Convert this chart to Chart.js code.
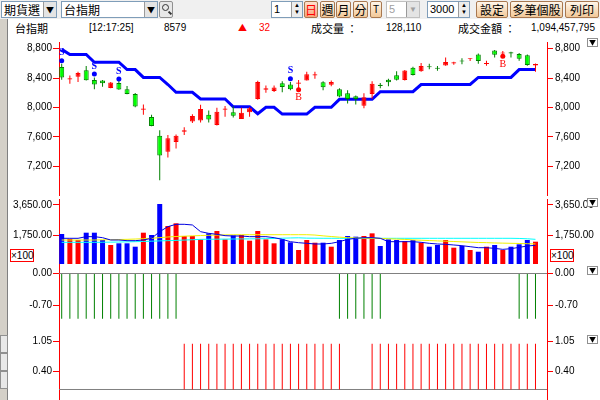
<!DOCTYPE html>
<html lang="zh-Hant">
<head>
<meta charset="UTF-8">
<title>台指期</title>
<script src="https://cdn.jsdelivr.net/npm/chart.js"></script>
<style>
  body { margin: 0; width: 600px; height: 400px; overflow: hidden; background: #fff; position: relative;
         font-family: "Noto Sans CJK TC", "Liberation Sans", sans-serif; }
  .abs { position: absolute; box-sizing: border-box; }
  #toolbar { left: 0; top: 0; width: 600px; height: 19px; background: #f0f0f0; }
  .box { top: 1px; height: 17px; background: #fff; border: 1px solid #7f9db9; font-size: 12px; line-height: 15px; padding-left: 2px; white-space: nowrap; }
  .dd { position: absolute; right: 0; top: 0; width: 12px; height: 15px; background: #e4e4e4; border-left: 1px solid #9a9a9a; font-size: 8px; line-height: 15px; text-align: center; color: #000; }
  .spin { position: absolute; right: 0; top: 0; width: 10px; height: 15px; background: #ececec; border-left: 1px solid #9a9a9a; font-size: 6px; line-height: 7px; text-align: center; }
  .btn { top: 1px; height: 17px; border: 1px solid #a87850; border-radius: 2px; background: linear-gradient(#fff6ea, #f2c898); font-size: 12px; line-height: 15px; text-align: center; color: #000; }
  .info { top: 21px; font-size: 11px; line-height: 14px; white-space: nowrap; color: #000; }
  .num { font-family: "Liberation Sans", sans-serif; font-size: 10px; }
  .red { color: #ff0000; }
  .tri { width: 11px; height: 9px; background: #fff; border: 1px solid #909090; font-size: 7px; line-height: 7px; text-align: center; color: #000; }
  .x100 { width: 24px; height: 13px; border: 1px solid #ff0000; background: #fff; font-size: 10px; line-height: 11px; text-align: center; font-family: "Liberation Sans", sans-serif; }
  canvas { position: absolute; left: 0; }
</style>
</head>
<body>
  <div id="toolbar" class="abs"></div>
  <div class="abs box" style="left:1px;width:56px">期貨選<span class="dd">▼</span></div>
  <div class="abs box" style="left:61px;width:97px">台指期<span class="dd">▼</span></div>
  <div class="abs btn" style="left:159px;width:14px;background:#e8e8e8;border-color:#909090">
    <div class="abs" style="left:2px;top:2px;width:7px;height:7px;border:1px solid #333;border-radius:50%"></div>
    <div class="abs" style="left:8px;top:10px;width:4px;height:2px;background:#333;transform:rotate(45deg)"></div>
  </div>
  <div class="abs box num" style="left:271px;width:32px;font-size:11px">1<span class="spin">▲<br>▼</span></div>
  <div class="abs btn red" style="left:304px;width:14px;background:linear-gradient(#ffe2d0,#f7a27a)">日</div>
  <div class="abs btn" style="left:320px;width:15px">週</div>
  <div class="abs btn" style="left:336px;width:15px">月</div>
  <div class="abs btn" style="left:353px;width:15px">分</div>
  <div class="abs btn" style="left:370px;width:12px;font-family:'Liberation Sans';font-size:10px">T</div>
  <div class="abs box num" style="left:386px;width:34px;font-size:11px;color:#a0a0a0;border-color:#c0c0c0">5<span class="dd" style="color:#a0a0a0">▼</span></div>
  <div class="abs box num" style="left:427px;width:43px;font-size:11px">3000<span class="spin">▲<br>▼</span></div>
  <div class="abs btn" style="left:476px;width:32px">設定</div>
  <div class="abs btn" style="left:510px;width:53px">多筆個股</div>
  <div class="abs btn" style="left:565px;width:34px">列印</div>

  <div class="abs" style="left:0;top:19px;width:8px;height:381px;background:#d4d0c8;border-right:1px solid #808080"></div>
  <div class="abs" style="left:0;top:335px;width:8px;height:18px;background:#e8e8e8;border:1px solid #909090"></div>
  <div class="abs" style="left:0;top:353px;width:8px;height:18px;background:#e8e8e8;border:1px solid #909090"></div>
  <div class="abs" style="left:0;top:371px;width:8px;height:18px;background:#e8e8e8;border:1px solid #909090"></div>

  <div class="abs info" style="left:15px">台指期</div>
  <div class="abs info num" style="left:89px">[12:17:25]</div>
  <div class="abs info num" style="left:164px">8579</div>
  <div class="abs info red" style="left:238px;font-size:9px">▲</div>
  <div class="abs info red num" style="left:259px">32</div>
  <div class="abs info" style="left:311px">成交量 ：</div>
  <div class="abs info num" style="left:386px">128,110</div>
  <div class="abs info" style="left:458px">成交金額 ：</div>
  <div class="abs info num" style="left:531px">1,094,457,795</div>

  <canvas id="price" width="600" height="161" style="top:38px"></canvas>
  <canvas id="volume" width="600" height="67" style="top:199px"></canvas>
  <canvas id="sig1" width="600" height="65" style="top:266px"></canvas>
  <canvas id="sig2" width="600" height="69" style="top:331px"></canvas>

  <div class="abs tri" style="left:587px;top:38px">▼</div>
  <div class="abs tri" style="left:587px;top:198px">▼</div>
  <div class="abs tri" style="left:587px;top:266px">▼</div>
  <div class="abs tri" style="left:587px;top:335px">▼</div>
  <div class="abs x100" style="left:10px;top:249px">×100</div>
  <div class="abs x100" style="left:550px;top:249px">×100</div>

<script>
  // 日K資料 (讀圖估計)
  const opens  = [8550,8380,8416,8507,8373,8365,8265,8334,8248,8183,7968,7868,7614,7398,7528,7670,7808,7821,7899,7761,
                  7968,7933,7843,7933,8114,8240,8222,8330,8313,8322,8365,8434,8343,8308,8248,8192,8153,8024,8183,8308,
                  8377,8438,8373,8541,8494,8562,8540,8572,8597,8638,8658,8722,8590,8774,8735,8750,8727,8710,8572];
  const highs  = [8593,8433,8485,8563,8408,8373,8345,8377,8291,8196,8041,7899,7688,7623,7632,7731,7908,8037,7959,7994,
                  8020,8015,7994,8002,8364,8300,8300,8356,8347,8373,8485,8485,8356,8365,8261,8235,8162,8192,8356,8334,
                  8390,8494,8511,8554,8606,8593,8563,8680,8623,8671,8668,8735,8636,8783,8768,8757,8740,8722,8597];
  const lows   = [8377,8321,8347,8365,8248,8282,8260,8240,8180,8002,7899,7744,7010,7320,7442,7623,7787,7795,7795,7755,
                  7873,7864,7843,7873,8106,8200,8209,8205,8235,8261,8365,8390,8235,8287,8140,8054,8041,7990,8119,8261,
                  8287,8365,8365,8433,8485,8520,8498,8568,8580,8589,8632,8593,8568,8680,8715,8680,8636,8567,8485];
  const closes = [8408,8398,8468,8369,8313,8330,8339,8244,8183,8011,7986,7748,7346,7580,7614,7688,7882,7977,7834,7942,
                  7986,7886,7929,7990,8347,8260,8270,8278,8248,8340,8451,8450,8274,8347,8149,8114,8114,8140,8321,8292,
                  8343,8377,8503,8442,8563,8546,8526,8619,8615,8624,8668,8632,8606,8718,8748,8733,8662,8576,8590];
  const stopLine = [8790,8720,8720,8720,8615,8615,8615,8615,8515,8515,8408,8408,8408,8312,8205,8205,8205,8115,8115,8115,
                    8115,8008,8008,8008,7914,8002,8002,7910,7910,7910,7910,8002,8002,8002,8110,8110,8110,8110,8110,8214,
                    8214,8214,8214,8214,8312,8312,8312,8312,8312,8312,8312,8408,8408,8408,8408,8408,8515,8515,8515];
  const sellIdx = [0, 4, 7, 28];
  const sellDot = [8636, 8455, 8386, 8390];
  const buyIdx = [29, 54];
  const buyDot = [8240, 8695];

  // 成交量 (×100)
  const volume = [1855,1546,1484,1936,1936,1484,1175,1279,1279,1070,1936,1793,3711,2350,2517,1731,1731,1525,1896,2040,
                  1525,1772,1793,1441,2040,1525,1279,1525,1340,865,1484,1317,1317,1070,1484,1731,1690,1731,1896,1113,
                  1525,1484,1422,1484,1317,1070,1175,1484,1008,1113,865,760,1070,1175,865,1070,1217,1484,1380];
  const volMaBlue = [1589,1589,1589,1690,1690,1628,1484,1484,1443,1443,1484,1589,2000,2310,2455,2455,2413,2000,1896,1834,
                     1752,1731,1731,1690,1690,1690,1628,1525,1380,1317,1279,1237,1237,1279,1380,1525,1589,1628,1628,1589,
                     1380,1380,1380,1380,1340,1279,1237,1217,1175,1134,1070,1008,1008,967,906,947,1029,1113,1155];
  const volMaYellow = [1484,1484,1484,1484,1484,1495,1505,1515,1525,1545,1565,1590,1630,1670,1700,1720,1740,1760,1775,1790,
                       1800,1805,1810,1812,1812,1812,1812,1812,1812,1812,1812,1790,1740,1700,1660,1630,1610,1600,1590,1580,
                       1560,1540,1520,1490,1470,1450,1430,1410,1390,1370,1350,1330,1320,1300,1290,1280,1270,1255,1240];
  const volMaCyan = [1340,1340,1340,1340,1340,1345,1350,1360,1370,1380,1395,1410,1430,1443,1460,1480,1500,1525,1530,1535,
                     1540,1545,1550,1555,1560,1565,1580,1595,1610,1620,1600,1595,1590,1590,1590,1590,1589,1589,1589,1589,
                     1589,1589,1589,1589,1589,1589,1589,1589,1589,1589,1589,1589,1589,1589,1589,1589,1580,1560,1525];

  // 訊號
  const sellSignal = [-1,-1,-1,-1,-1,-1,-1,-1,-1,-1,-1,-1,-1,-1,-1,null,null,null,null,null,
                      null,null,null,null,null,null,null,null,null,null,null,null,null,null,-1,-1,-1,-1,-1,-1,
                      null,null,null,null,null,null,null,null,null,null,null,null,null,null,null,null,-1,-1,-1];
  const buySignal = [null,null,null,null,null,null,null,null,null,null,null,null,null,null,null,1,1,1,1,1,
                     1,1,1,1,1,1,1,1,1,1,1,1,1,1,1,null,null,null,1,1,
                     1,1,1,1,1,1,1,1,1,1,1,1,1,1,1,1,1,1,1];

  const priceTicks = [7200, 7600, 8000, 8400, 8800];
  const volumeTicks = [1750, 3650];
  const sig1Ticks = [-0.7, 0];
  const sig2Ticks = [0.4, 1.05];

  const X_MIN = -0.33, X_MAX = 59.41;
  const RED = '#ff0000', GREEN = '#00ff00', DKGREEN = '#008000', BLUE = '#0000ff';
  const FONT = { family: 'Liberation Sans', size: 10 };

  const idx = opens.map(function(_, i) { return i; });
  const up = idx.map(function(i) { return closes[i] >= opens[i]; });
  const xy = function(arr) { return idx.map(function(i) { return { x: i, y: arr[i] }; }); };

  function yAxis(pos, min, max, ticks, fmt) {
    return {
      position: pos, min: min, max: max,
      afterBuildTicks: function(s) { s.ticks = ticks.map(function(v) { return { value: v }; }); },
      afterFit: function(s) { s.width = pos === 'left' ? 59 : 53; s.paddingTop = 0; s.paddingBottom = 0; },
      border: { display: true, color: RED, width: 1 },
      grid: { drawOnChartArea: false, drawTicks: true, tickLength: 6, color: RED },
      ticks: { color: '#000', font: FONT, padding: pos === 'left' ? 1 : 2, callback: fmt }
    };
  }

  function panel(id, datasets, min, max, ticks, fmt, plugins) {
    return new Chart(document.getElementById(id), {
      type: 'bar',
      data: { datasets: datasets },
      options: {
        responsive: false,
        animation: false,
        layout: { padding: 0 },
        plugins: { legend: { display: false }, tooltip: { enabled: false } },
        scales: {
          x: { type: 'linear', min: X_MIN, max: X_MAX, display: false, offset: false },
          y: yAxis('left', min, max, ticks, fmt),
          y2: yAxis('right', min, max, ticks, fmt)
        }
      },
      plugins: plugins || []
    });
  }

  // 細長柱 (影線、成交量、訊號線)
  function bars(data, color, width, order) {
    return {
      data: data, backgroundColor: color, barThickness: width,
      grouped: false, categoryPercentage: 1, barPercentage: 1, inflateAmount: 0, borderWidth: 0, order: order
    };
  }

  function zeroLine() {
    return { type: 'line', data: [{ x: X_MIN, y: 0 }, { x: X_MAX, y: 0 }], borderColor: '#808080',
             borderWidth: 1, pointRadius: 0, order: 9 };
  }

  // S / B 文字標記
  const markerText = {
    id: 'markerText',
    afterDatasetsDraw: function(chart) {
      const ctx = chart.ctx, xs = chart.scales.x, ys = chart.scales.y;
      ctx.save();
      ctx.textAlign = 'center';
      ctx.textBaseline = 'middle';
      ctx.font = 'bold 10px "Liberation Serif"';
      ctx.fillStyle = BLUE;
      sellIdx.forEach(function(i, k) {
        ctx.fillText('S', xs.getPixelForValue(i), ys.getPixelForValue(sellDot[k]) - 8);
      });
      ctx.font = '10px "Liberation Serif"';
      ctx.fillStyle = RED;
      buyIdx.forEach(function(i, k) {
        ctx.fillText('B', xs.getPixelForValue(i), ys.getPixelForValue(buyDot[k]) + 8);
      });
      ctx.restore();
    }
  };

  const fmtPrice = function(v) { return v.toLocaleString('en-US'); };
  const fmtVol = function(v) { return v.toLocaleString('en-US', { minimumFractionDigits: 2, maximumFractionDigits: 2 }); };
  const fmtSig = function(v) { return v.toFixed(2); };

  // K線圖
  panel('price', [
    { type: 'line', data: xy(stopLine), borderColor: BLUE, borderWidth: 3, pointRadius: 0, order: 6 },
    bars(idx.map(function(i) { return { x: i, y: [lows[i], highs[i]] }; }),
         up.map(function(u) { return u ? RED : DKGREEN; }), 1, 5),
    {
      data: idx.map(function(i) { return { x: i, y: [Math.min(opens[i], closes[i]), Math.max(opens[i], closes[i])] }; }),
      backgroundColor: up.map(function(u) { return u ? RED : GREEN; }),
      borderColor: up.map(function(u) { return u ? RED : DKGREEN; }),
      borderWidth: 1, borderSkipped: false, barThickness: 5, inflateAmount: 0,
      grouped: false, categoryPercentage: 1, barPercentage: 1, order: 4
    },
    { type: 'line', showLine: false, data: sellIdx.map(function(i, k) { return { x: i, y: sellDot[k] }; }),
      pointRadius: 2.5, pointBackgroundColor: BLUE, pointBorderWidth: 0, order: 2 },
    { type: 'line', showLine: false, data: buyIdx.map(function(i, k) { return { x: i, y: buyDot[k] }; }),
      pointRadius: 2.5, pointBackgroundColor: RED, pointBorderWidth: 0, order: 2 }
  ], 6808, 8890.5, priceTicks, fmtPrice, [markerText]);

  // 成交量
  panel('volume', [
    bars(xy(volume), up.map(function(u) { return u ? RED : BLUE; }), 5, 5),
    { type: 'line', data: xy(volMaCyan), borderColor: '#00ffff', borderWidth: 1, pointRadius: 0, order: 3 },
    { type: 'line', data: xy(volMaYellow), borderColor: '#f0f000', borderWidth: 1, pointRadius: 0, order: 2 },
    { type: 'line', data: xy(volMaBlue), borderColor: '#0000e0', borderWidth: 1, pointRadius: 0, order: 1 }
  ], -124, 4020, volumeTicks, fmtVol);

  // 訊號面板
  panel('sig1', [zeroLine(), bars(xy(sellSignal), DKGREEN, 1, 1)], -1.272, 0.166, sig1Ticks, fmtSig);
  panel('sig2', [zeroLine(), bars(xy(buySignal), RED, 1, 1)], -0.2298, 1.28, sig2Ticks, fmtSig);
</script>
</body>
</html>
